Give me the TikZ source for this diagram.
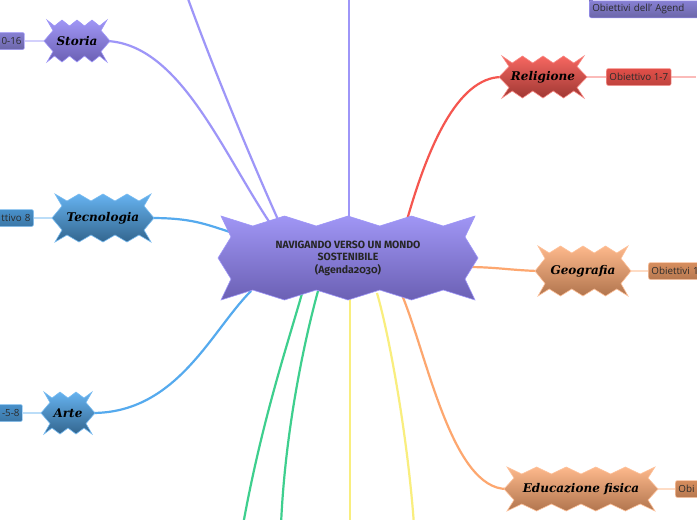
\documentclass[tikz,border=0pt]{standalone}
\usepackage{fontspec}
\setmainfont{Open Sans}
\newfontfamily\subjfont{DejaVu Serif}
\newfontfamily\hubfont[Numbers=OldStyle]{Fira Sans}
\usetikzlibrary{positioning,calc}

\definecolor{lavenderline}{HTML}{9E96F8}
\definecolor{skyline}{HTML}{55AAEE}
\definecolor{coralline}{HTML}{F5564F}
\definecolor{peachline}{HTML}{FDA76F}
\definecolor{mintline}{HTML}{3ECF8E}
\definecolor{lemonline}{HTML}{F9EE7E}
\definecolor{hubtop}{HTML}{A096F5}
\definecolor{hubbot}{HTML}{6B60B4}
\definecolor{boxtext}{HTML}{2B2B2B}

\pgfdeclarelayer{lines}
\pgfdeclarelayer{shapes}
\pgfsetlayers{lines,shapes,main}

% zigzag outline behind a named node: node, half width, half height, teeth, depth, style
\newcommand{\burst}[6]{%
  \begin{pgfonlayer}{shapes}
  \path[#6, shift={(#1.center)}] (-#2,-#3)
    \foreach \i in {1,...,#4} {-- ({-#2+(\i-0.5)*2*#2/#4},{-#3+#5}) -- ({-#2+\i*2*#2/#4},-#3)}
    -- ({#2-#5},{-#3/2}) -- (#2+3,0) -- ({#2-#5},{#3/2}) -- (#2,#3)
    \foreach \i in {1,...,#4} {-- ({#2-(\i-0.5)*2*#2/#4},{#3-#5}) -- ({#2-\i*2*#2/#4},#3)}
    -- ({-#2+#5},{#3/2}) -- (-#2-3,0) -- ({-#2+#5},{-#3/2}) -- cycle;
  \end{pgfonlayer}}

\tikzset{
  subj/.style={font=\subjfont\bfseries\itshape\fontsize{12}{14}\selectfont, text=black, inner sep=0pt},
  hubburst/.style={draw=lavenderline, line width=0.6pt, top color=hubtop, bottom color=hubbot},
  purpleburst/.style={draw=lavenderline, line width=0.6pt, top color=hubtop, bottom color=hubbot},
  blueburst/.style={draw=skyline!80!white, line width=0.6pt, top color=skyline!90!white, bottom color=skyline!60!black},
  redburst/.style={draw=coralline!70!white, line width=0.6pt, top color=coralline!90!white, bottom color=coralline!65!black},
  orangeburst/.style={draw=peachline!70!white, line width=0.6pt, top color=peachline!80!white, bottom color=peachline!70!black},
  goal/.style={font=\fontsize{9.8}{11}\selectfont, text=boxtext, rounded corners=2pt, minimum height=17pt, inner sep=3pt, line width=0.5pt},
  purplebox/.style={draw=lavenderline, top color=lavenderline!85!black, bottom color=lavenderline!68!black},
  bluebox/.style={draw=skyline!70!white, top color=skyline!85!black, bottom color=skyline!70!black},
  redbox/.style={draw=coralline!60!white, top color=coralline!92!black, bottom color=coralline!78!black},
  orangebox/.style={draw=peachline!60!white, top color=peachline!85!black, bottom color=peachline!72!black},
  branch/.style={line width=2.2pt},
  twig/.style={line width=1.4pt}
}

\begin{document}
\begin{tikzpicture}[x=1pt, y=-1pt]
  % \draw[help lines, gray!50, very thin] (0,0) grid[step=50] (697,520);
  \useasboundingbox (0,0) rectangle (697,520);
  \begin{pgfonlayer}{lines}
    \fill[white] (0,0) rectangle (697,520);
  \end{pgfonlayer}

  \node[font=\hubfont\bfseries\fontsize{10.5}{12.5}\selectfont, text=black!85, align=center,
        minimum width=254pt, minimum height=84pt, inner sep=0pt] (hub) at (348,258)
        {NAVIGANDO VERSO UN MONDO\\SOSTENIBILE\\(Agenda2030)};
  \node[subj, minimum width=60pt, minimum height=42pt] (storia) at (77,41) {Storia};
  \node[subj, minimum width=96pt, minimum height=48pt] (tecnologia) at (103,218) {Tecnologia};
  \node[subj, minimum width=48pt, minimum height=42pt] (arte) at (68,413) {Arte};
  \node[subj, minimum width=82pt, minimum height=42pt] (religione) at (543,77) {Religione};
  \node[subj, minimum width=90pt, minimum height=50pt] (geografia) at (583,271) {Geografia};
  \node[subj, minimum width=148pt, minimum height=44pt] (educazione) at (581,489) {Educazione fisica};

  \burst{hub}{127}{42}{4}{10}{hubburst}
  \burst{storia}{30}{21}{4}{6}{purpleburst}
  \burst{tecnologia}{48}{24}{4}{7}{blueburst}
  \burst{arte}{24}{21}{3}{6}{blueburst}
  \burst{religione}{41}{21}{4}{7}{redburst}
  \burst{geografia}{45}{25}{4}{7}{orangeburst}
  \burst{educazione}{74}{22}{5}{7}{orangeburst}

  % goal boxes
  \node[goal, purplebox, left=22pt of storia, text width=40pt, align=right] (storiabox) {0-16};
  \node[goal, bluebox, left=21pt of tecnologia, text width=50pt, align=right] (tecnobox) {ttivo 8};
  \node[goal, bluebox, left=21pt of arte, text width=40pt, align=right] (artebox) {-5-8};
  \node[goal, redbox, right=22pt of religione] (relbox) {Obiettivo 1-7};
  \node[goal, orangebox, right=20pt of geografia, text width=60pt, align=left] (geobox) {Obiettivi 1};
  \node[goal, orangebox, right=20pt of educazione, text width=40pt, align=left] (edubox) {Obi};
  \node[goal, purplebox, anchor=south west, text width=120pt, align=left] (agenda) at (589,18) {Obiettivi dell' Agend};
  \begin{pgfonlayer}{shapes}
    \fill[lavenderline!75!black] ($(agenda.north west)+(0,2)$) rectangle ++(4,-40);
  \end{pgfonlayer}

  \coordinate (topend) at (349,-5);
  \coordinate (upleft) at (178,-30);
  \coordinate[right=25pt of relbox] (relnext);
  \coordinate (greenA) at (243,525);
  \coordinate (greenB) at (281,525);
  \coordinate (lemonA) at (350,525);
  \coordinate (lemonB) at (414,525);

  \begin{pgfonlayer}{lines}
    \draw[branch, lavenderline] ($(hub.center)+(1,-40)$) -- (topend);
    \draw[branch, lavenderline] (storia.east) .. controls +(73,4) and +(-50,-74) .. ($(hub.center)+(-76,-32)$);
    \draw[branch, lavenderline] ($(hub.center)+(-68,-34)$) .. controls +(-25,-55) and +(25,75) .. (upleft);
    \draw[branch, coralline] ($(hub.center)+(59,-38)$) .. controls +(20,-70) and +(-45,0) .. (religione.west);
    \draw[branch, skyline] (tecnologia.east) .. controls +(40,0) and +(-25,-8) .. ($(hub.center)+(-118,-26)$);
    \draw[branch, skyline] (arte.east) .. controls +(85,0) and +(-40,40) .. ($(hub.center)+(-97,33)$);
    \draw[branch, mintline] ($(hub.center)+(-45,32)$) .. controls +(-15,53) and +(19,-105) .. (greenA);
    \draw[branch, mintline] ($(hub.center)+(-30,33)$) .. controls +(-13,47) and +(4,-95) .. (greenB);
    \draw[branch, lemonline] ($(hub.center)+(2,40)$) -- (lemonA);
    \draw[branch, lemonline] ($(hub.center)+(29,35)$) .. controls +(13,45) and +(-6,-85) .. (lemonB);
    \draw[branch, peachline] ($(hub.center)+(118,9)$) .. controls +(30,0) and +(-30,-1) .. (geografia.west);
    \draw[branch, peachline] ($(hub.center)+(54,37)$) .. controls +(25,60) and +(-55,0) .. (educazione.west);
    % thin links to the goal boxes
    \draw[twig, lavenderline!45] (storia.west) -- (storiabox.east);
    \draw[twig, skyline!40] (tecnologia.west) -- (tecnobox.east);
    \draw[twig, skyline!40] (arte.west) -- (artebox.east);
    \draw[twig, coralline!40] (religione.east) -- (relbox.west);
    \draw[twig, coralline!40] (relbox.east) -- (relnext);
    \draw[twig, peachline!40] (geografia.east) -- (geobox.west);
    \draw[twig, peachline!40] (educazione.east) -- (edubox.west);
  \end{pgfonlayer}
\end{tikzpicture}
\end{document}
